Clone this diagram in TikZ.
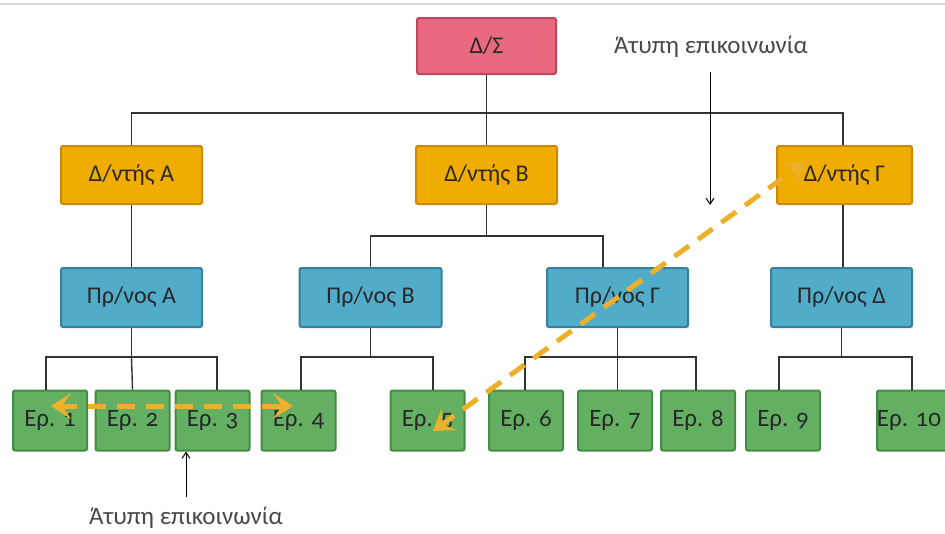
\documentclass[tikz,border=0pt]{standalone}
\usepackage{fontspec}
\setmainfont{Carlito}
\newfontfamily\epfont{Carlito}[Numbers=OldStyle]
\usetikzlibrary{arrows.meta,calc}
\definecolor{dsfill}{RGB}{233,106,128}
\definecolor{dsdraw}{RGB}{190,72,95}
\definecolor{dirfill}{RGB}{240,172,0}
\definecolor{dirdraw}{RGB}{200,138,10}
\definecolor{prfill}{RGB}{80,172,200}
\definecolor{prdraw}{RGB}{52,128,158}
\definecolor{epfill}{RGB}{100,176,98}
\definecolor{epdraw}{RGB}{68,140,68}
\definecolor{infcol}{RGB}{238,176,40}
\definecolor{txt}{RGB}{40,40,40}
\begin{document}
\begin{tikzpicture}[x=1pt,y=-1pt,
  box/.style={draw, line width=2pt, rounded corners=2pt, inner sep=0pt, text=txt, font=\fontsize{24}{28}\selectfont},
  dsbox/.style={box, fill=dsfill, draw=dsdraw, minimum width=139pt, minimum height=56pt},
  dirbox/.style={box, fill=dirfill, draw=dirdraw, minimum width=141pt, minimum height=58pt},
  prbox/.style={box, fill=prfill, draw=prdraw, minimum width=141pt, minimum height=59pt},
  epbox/.style={box, fill=epfill, draw=epdraw, minimum width=74pt, minimum height=60pt, font=\epfont\fontsize{25}{28}\selectfont},
  conn/.style={draw=black!80, line width=1.4pt},
  inf/.style={draw=infcol, line width=5pt, dash pattern=on 18pt off 11pt, shorten <=8pt, shorten >=8pt},
  infhead/.style={draw=infcol, line width=5pt, solid, -{Stealth[length=20pt,width=26pt,inset=9pt,fill=infcol,color=infcol,line width=1pt]}},
  lab/.style={text=txt!85, font=\fontsize{25}{28}\selectfont, inner sep=0pt},
  thin/.style={draw=black, line width=1pt, -{Straight Barb[length=6pt,width=8pt]}}
]
\useasboundingbox (0,0) rectangle (945,533);
\clip (0,0) rectangle (945,533);
\draw[black!15, line width=2pt] (0,4) -- (945,4);

% nodes
\node[dsbox] (ds) at (486.5,46) {Δ/Σ};
\node[dirbox] (da) at (131.5,175) {Δ/ντής Α};
\node[dirbox] (db) at (486.5,175) {Δ/ντής Β};
\node[dirbox, minimum width=135pt] (dg) at (844.5,175) {Δ/ντής Γ};
\node[prbox] (pa) at (131.5,297.5) {Πρ/νος Α};
\node[prbox, minimum width=142pt] (pb) at (370.5,297.5) {Πρ/νος Β};
\node[prbox] (pg) at (617.5,297.5) {Πρ/νος Γ};
\node[prbox] (pd) at (841.5,297.5) {Πρ/νος Δ};
\node[epbox] (e1) at (50,420.5) {\raisebox{3pt}{Ερ. 1}};
\node[epbox] (e2) at (132.5,420.5) {\raisebox{3pt}{Ερ. 2}};
\node[epbox] (e3) at (212.5,420.5) {\raisebox{3pt}{Ερ. 3}};
\node[epbox] (e4) at (298.5,420.5) {\raisebox{3pt}{Ερ. 4}};
\node[epbox] (e5) at (427.5,420.5) {\raisebox{3pt}{Ερ. 5}};
\node[epbox] (e6) at (526,420.5) {\raisebox{3pt}{Ερ. 6}};
\node[epbox] (e7) at (615,420.5) {\raisebox{3pt}{Ερ. 7}};
\node[epbox] (e8) at (698,420.5) {\raisebox{5pt}{Ερ. 8}};
\node[epbox] (e9) at (783,420.5) {\raisebox{3pt}{Ερ. 9}};
\node[epbox] (e10) at (914,420.5) {\hspace*{-10pt}\raisebox{3pt}{Ερ. 10}};

\node[lab] (ltop) at (711,47) {Άτυπη επικοινωνία};
\node[lab] (lbot) at (186,518) {Άτυπη επικοινωνία};

% hierarchy connectors
\draw[conn] (da.north) -- ++(0,-32) coordinate (tj) -| ([xshift=-1.5pt]dg.north);
\draw[conn] (ds.south) -- (db.north);
\draw[conn] (da.south) -- (pa.north);
\draw[conn] (db.south) -- ++(0,31) coordinate (bj);
\draw[conn] (pb.north) |- (bj) -| ([xshift=-14.5pt]pg.north);
\draw[conn] ([xshift=-1.5pt]dg.south) -- ([xshift=1.5pt]pd.north);

\draw[conn] (pa.south) -- ++(0,29) coordinate (aj);
\draw[conn] ([xshift=-4pt]e1.north) |- (aj) -| ([xshift=4.5pt]e3.north);
\draw[conn] (aj) -- (e2.north);

\draw[conn] (pb.south) -- ++(0,29) coordinate (bbj);
\draw[conn] ([xshift=2.5pt]e4.north) |- (bbj) -| ([xshift=5.5pt]e5.north);

\draw[conn] (pg.south) -- ++(0,29) coordinate (gj);
\draw[conn] ([xshift=-1pt]e6.north) |- (gj) -| ([xshift=-2pt]e8.north);
\draw[conn] (gj) -- ([xshift=2.5pt]e7.north);

\draw[conn] (pd.south) -- ++(0,29) coordinate (dj);
\draw[conn] ([xshift=-4pt]e9.north) |- (dj) -| ([xshift=-2pt]e10.north);

% informal communication
\coordinate (h1a) at ([shift={(1pt,14.5pt)}]e1.center);
\coordinate (h1b) at ([shift={(-5.5pt,14.5pt)}]e4.center);
\draw[inf] (h1a) -- (h1b);
\draw[infhead] ($(h1b)!16pt!(h1a)$) -- (h1b);
\draw[infhead] ($(h1a)!16pt!(h1b)$) -- (h1a);
\coordinate (h2a) at ([shift={(5.5pt,-10.5pt)}]e5.center);
\coordinate (h2b) at ([shift={(-39.5pt,13pt)}]dg.center);
\draw[inf] (h2a) -- (h2b);
\draw[infhead] ($(h2b)!16pt!(h2a)$) -- (h2b);
\draw[infhead] ($(h2a)!16pt!(h2b)$) -- (h2a);

\draw[thin] (ltop.south -| 710,0) ++(0,14) coordinate (ta) -- (ta |- 0,205);
\draw[thin] (lbot.north) ++(0,-10) coordinate (ba) -- (ba |- e3.south);
\end{tikzpicture}
\end{document}
